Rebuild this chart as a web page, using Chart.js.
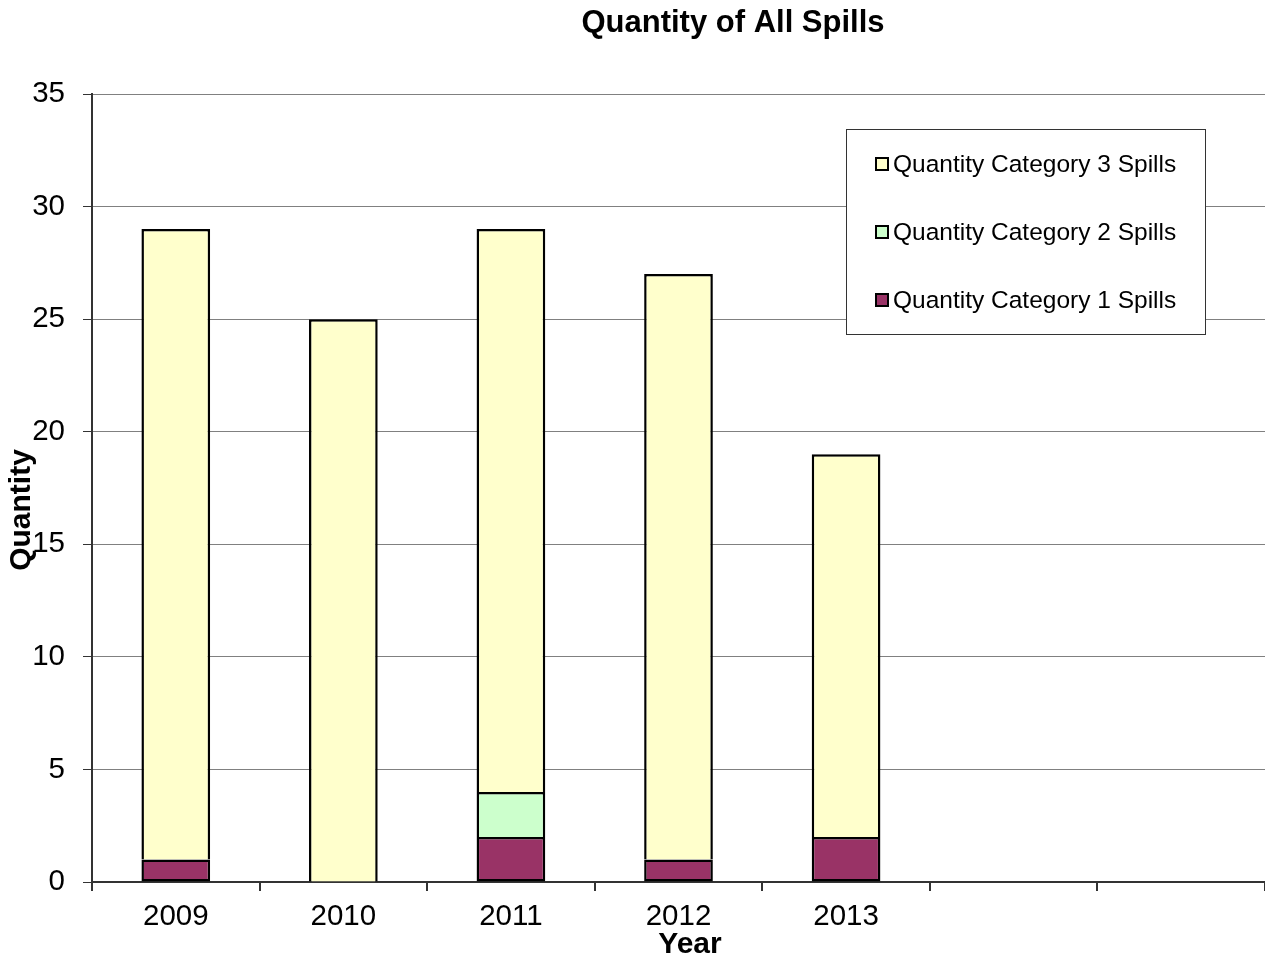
<!DOCTYPE html>
<html>
<head>
<meta charset="utf-8">
<script src="https://cdn.jsdelivr.net/npm/chart.js@4/dist/chart.umd.min.js"></script>
<style>
  html, body { margin: 0; padding: 0; background: #fff; }
  #wrap { width: 1265px; height: 961px; position: relative; }
</style>
</head>
<body>
<div id="wrap"><canvas id="spills"></canvas></div>
<script>
// data
var years = ['2009', '2010', '2011', '2012', '2013', '', ''];
var cat1 = [1, null, 2, 1, 2, null, null];
var cat2 = [null, null, 2, null, null, null, null];
var cat3 = [28, 25, 25, 26, 17, null, null];
var yTicks = [0, 5, 10, 15, 20, 25, 30, 35];

var FONT = "'Liberation Sans', Arial, sans-serif";

// title, axis titles and the boxed legend
var decor = {
  id: 'decor',
  afterDraw: function(chart) {
    var ctx = chart.ctx;
    ctx.save();
    ctx.fillStyle = '#000';
    ctx.textAlign = 'center';
    ctx.textBaseline = 'middle';
    ctx.font = 'bold 31px ' + FONT;
    ctx.fillText('Quantity of All Spills', 733, 23);
    ctx.font = 'bold 30px ' + FONT;
    ctx.fillText('Year', 690, 945);
    ctx.save();
    ctx.translate(22, 510);
    ctx.rotate(-Math.PI / 2);
    ctx.fillText('Quantity', 0, 0);
    ctx.restore();

    // legend
    ctx.fillStyle = '#fff';
    ctx.fillRect(846.5, 129.5, 359, 205);
    ctx.strokeStyle = '#333';
    ctx.lineWidth = 1;
    ctx.strokeRect(846.5, 129.5, 359, 205);
    var ds = chart.data.datasets.slice().reverse();
    ctx.font = '24.5px ' + FONT;
    ctx.textAlign = 'left';
    for (var i = 0; i < ds.length; i++) {
      var y = 164 + i * 68;
      ctx.fillStyle = ds[i].backgroundColor;
      ctx.fillRect(876, y - 6, 12, 12);
      ctx.strokeStyle = '#000';
      ctx.lineWidth = 2;
      ctx.strokeRect(876, y - 6, 12, 12);
      ctx.fillStyle = '#000';
      ctx.fillText(ds[i].label, 893, y + 1);
    }
    ctx.restore();
  }
};

var ctx = document.getElementById('spills').getContext('2d');
var chart = new Chart(ctx, {
  type: 'bar',
  data: {
    labels: years,
    datasets: [{
      label: 'Quantity Category 1 Spills',
      data: cat1,
      backgroundColor: '#993366',
      borderColor: '#000',
      borderWidth: 2.5,
      borderSkipped: false
    }, {
      label: 'Quantity Category 2 Spills',
      data: cat2,
      backgroundColor: '#CCFFCC',
      borderColor: '#000',
      borderWidth: 2.5,
      borderSkipped: 'start'
    }, {
      label: 'Quantity Category 3 Spills',
      data: cat3,
      backgroundColor: '#FFFFCC',
      borderColor: '#000',
      borderWidth: 2.5,
      borderSkipped: 'start'
    }]
  },
  options: {
    responsive: true,
    maintainAspectRatio: false,
    animation: false,
    layout: { padding: { top: 94, left: 0, right: 0, bottom: 0 } },
    datasets: { bar: { barPercentage: 1, categoryPercentage: 0.41 } },
    plugins: {
      legend: { display: false },
      title: { display: false },
      tooltip: { enabled: false }
    },
    scales: {
      x: {
        stacked: true,
        afterFit: function(scale) { scale.height = 79; },
        grid: {
          offset: true,
          drawOnChartArea: false,
          drawTicks: true,
          tickLength: 9,
          tickColor: '#333',
          lineWidth: 2
        },
        border: { color: '#333', width: 2 },
        ticks: {
          color: '#000',
          font: { family: FONT, size: 29.5 },
          padding: 8,
          maxRotation: 0
        }
      },
      y: {
        stacked: true,
        min: 0,
        max: 35,
        afterFit: function(scale) { scale.width = 92; },
        afterBuildTicks: function(scale) {
          scale.ticks = yTicks.map(function(v) { return { value: v }; });
        },
        grid: {
          color: '#808080',
          lineWidth: 1,
          tickLength: 9,
          tickColor: '#333'
        },
        border: { color: '#333', width: 2 },
        ticks: {
          color: '#000',
          font: { family: FONT, size: 29.5 },
          padding: 18
        }
      }
    }
  },
  plugins: [decor]
});
</script>
</body>
</html>
